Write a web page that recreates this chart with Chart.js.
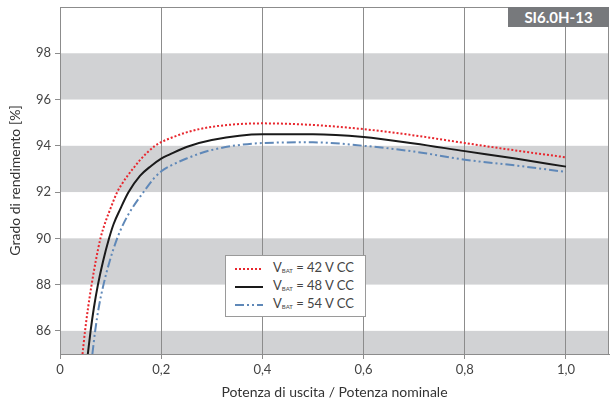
<!DOCTYPE html>
<html>
<head>
<meta charset="utf-8">
<script src="https://cdn.jsdelivr.net/npm/chart.js@4/dist/chart.umd.min.js"></script>
<style>
  html, body { margin: 0; padding: 0; background: #fff; }
  #wrap { position: relative; width: 610px; height: 405px; font-family: Lato, sans-serif; color: #444; }
  #tag { position: absolute; left: 508px; top: 7px; width: 101px; height: 20px; background: #77797c;
    color: #fff; font-weight: bold; font-size: 15px; line-height: 20px; text-align: center; }
  #legend { position: absolute; left: 225px; top: 255px; width: 141px; height: 62px; background: #fff;
    border: 1px solid #9a9a9a; box-sizing: border-box; padding-top: 4px; font-size: 13px; }
  #legend .row { height: 18px; line-height: 18px; display: flex; align-items: center; }
  #legend svg { margin-left: 9px; margin-right: 10px; }
  #legend sub { font-size: 6px; vertical-align: -1px; }
</style>
</head>
<body>
<div id="wrap">
  <canvas id="chart" width="610" height="405"></canvas>
  <div id="tag">SI6.0H-13</div>
  <div id="legend"></div>
</div>
<script>
const xTitle = 'Potenza di uscita / Potenza nominale'
const yTitle = 'Grado di rendimento [%]'

const labels = ['V_BAT = 42 V CC', 'V_BAT = 48 V CC', 'V_BAT = 54 V CC']

// efficiency curves (x = P / Pnom, y = %)
const v42x = [0.0445, 0.0495, 0.0555, 0.0625, 0.0705, 0.080, 0.090, 0.100, 0.112, 0.122, 0.134, 0.146, 0.158, 0.171, 0.188, 0.201, 0.217, 0.250, 0.300, 0.400, 0.500, 0.600, 0.700, 0.800, 0.900, 1.000]
const v42y = [85.0, 86.0, 87.0, 88.0, 89.0, 90.0, 90.72, 91.3, 91.95, 92.34, 92.72, 93.06, 93.38, 93.68, 94.0, 94.17, 94.32, 94.58, 94.82, 94.97, 94.9, 94.72, 94.45, 94.12, 93.8, 93.5]

const v48x = [0.055, 0.0605, 0.067, 0.075, 0.085, 0.097, 0.106, 0.119, 0.135, 0.158, 0.180, 0.200, 0.217, 0.250, 0.300, 0.400, 0.500, 0.600, 0.700, 0.800, 0.900, 1.000]
const v48y = [85.0, 86.0, 87.0, 88.0, 89.0, 90.0, 90.62, 91.26, 91.98, 92.7, 93.13, 93.45, 93.63, 93.95, 94.25, 94.5, 94.5, 94.38, 94.1, 93.77, 93.45, 93.1]

const v54x = [0.064, 0.0695, 0.0765, 0.086, 0.098, 0.113, 0.127, 0.142, 0.165, 0.186, 0.201, 0.217, 0.250, 0.300, 0.400, 0.500, 0.600, 0.700, 0.800, 0.900, 1.000]
const v54y = [85.0, 86.0, 87.0, 88.0, 89.0, 90.0, 90.7, 91.28, 92.0, 92.6, 92.91, 93.12, 93.45, 93.82, 94.12, 94.15, 94.0, 93.75, 93.4, 93.15, 92.87]

const bands = [[84, 86], [88, 90], [92, 94], [96, 98]]

const colors = ['#e8262d', '#1a1a1a', '#5f88b8']
const dashes = [[2, 2], [], [9, 3, 2, 3, 2, 3]]
const widths = [2, 2, 2]

const pts = (xs, ys) => xs.map((x, i) => ({ x: x, y: ys[i] }))

const bandPlugin = {
  id: 'bands',
  beforeDraw (chart) {
    const { ctx, chartArea: a, scales: { y } } = chart
    ctx.save()
    ctx.fillStyle = '#d1d2d4'
    bands.forEach(b => {
      const top = Math.max(y.getPixelForValue(b[1]), a.top)
      const bot = Math.min(y.getPixelForValue(b[0]), a.bottom)
      ctx.fillRect(a.left, top, a.right - a.left, bot - top)
    })
    ctx.restore()
  },
  afterDraw (chart) {
    const { ctx, chartArea: a } = chart
    ctx.save()
    ctx.strokeStyle = '#8c8c8c'
    ctx.lineWidth = 1
    ctx.strokeRect(a.left + 0.5, a.top + 0.5, a.right - a.left - 1, a.bottom - a.top)
    ctx.restore()
  }
}

const ds = [pts(v42x, v42y), pts(v48x, v48y), pts(v54x, v54y)].map((d, i) => ({
  label: labels[i],
  data: d,
  borderColor: colors[i],
  borderDash: dashes[i],
  borderWidth: widths[i],
  pointRadius: 0,
  fill: false,
  cubicInterpolationMode: 'monotone'
}))

const tickFont = { family: 'Lato', size: 13 }

new Chart(document.getElementById('chart').getContext('2d'), {
  type: 'line',
  data: { datasets: ds },
  plugins: [bandPlugin],
  options: {
    responsive: false,
    animation: false,
    layout: { padding: { top: 7, right: 1 } },
    plugins: { legend: { display: false }, tooltip: { enabled: false } },
    scales: {
      x: {
        type: 'linear',
        min: 0,
        max: 1.085,
        afterFit: s => { s.height = 51 },
        border: { color: '#8c8c8c' },
        grid: { color: '#8c8c8c', tickLength: 5, drawOnChartArea: true },
        ticks: {
          stepSize: 0.2,
          includeBounds: false,
          color: '#444',
          font: tickFont,
          padding: 3,
          callback: v => v === 0 ? '0' : v.toFixed(1).replace('.', ',')
        },
        title: { display: true, text: xTitle, color: '#333', font: { family: 'Lato', size: 14 }, padding: { top: 3 } }
      },
      y: {
        min: 85,
        max: 100,
        afterFit: s => { s.width = 60; s.paddingTop = 0; s.paddingBottom = 0 },
        border: { color: '#8c8c8c' },
        grid: { drawOnChartArea: false, color: '#8c8c8c', tickLength: 5 },
        ticks: {
          stepSize: 2,
          color: '#444',
          font: tickFont,
          padding: 4,
          callback: v => (v % 2 === 0 && v < 100) ? String(v) : ''
        },
        afterBuildTicks: s => { s.ticks = s.ticks.filter(t => t.value % 2 === 0 && t.value < 100) },
        title: { display: true, text: yTitle, color: '#333', font: { family: 'Lato', size: 14 }, padding: { top: 7, bottom: 0 } }
      }
    }
  }
})

// legend with subscript, built from labels
const legend = document.getElementById('legend')
labels.forEach((l, i) => {
  const row = document.createElement('div')
  row.className = 'row'
  const dash = dashes[i].length ? dashes[i].join(' ') : 'none'
  row.innerHTML = '<svg width="28" height="4"><line x1="0" y1="2" x2="28" y2="2" stroke="' + colors[i] +
    '" stroke-width="2" stroke-dasharray="' + dash + '"/></svg>' +
    '<span>' + l.replace('V_BAT', 'V<sub>BAT</sub>') + '</span>'
  legend.appendChild(row)
})
</script>
</body>
</html>
